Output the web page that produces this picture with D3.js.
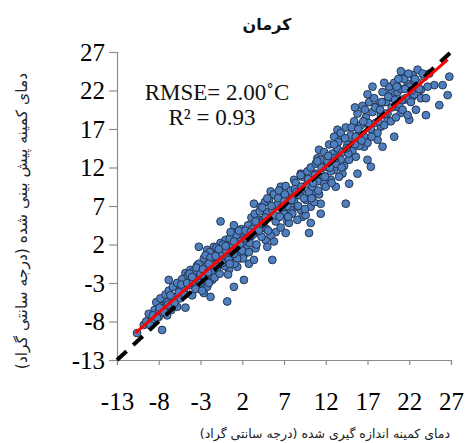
<!DOCTYPE html>
<html><head><meta charset="utf-8">
<script src="https://cdn.jsdelivr.net/npm/d3@7"></script>
<style>html,body{margin:0;padding:0;background:#fff;}svg{display:block;}</style>
</head><body>
<svg id="chart" width="466" height="443"></svg>
<script>
const title = "کرمان";
const xLabel = "دمای کمینه اندازه گیری شده (درجه سانتی گراد)";
const yLabel = "دمای کمینه پیش بینی شده (درجه سانتی گراد)";
const statsText = ["RMSE= 2.00˚C", "R² = 0.93"];
const tickValues = [-13, -8, -3, 2, 7, 12, 17, 22, 27];
const axisDomain = [-13, 27];
const fitLine = { x: [-10.8, 26.6], y: [-9.5, 26.0] };
const oneToOne = [-13, 27];

const observed = [
-10.6,-9.8,-7.6,-8.0,-7.0,-7.6,-6.8,-7.4,-6.4,-5.8,-5.4,-5.0,-4.8,-4.4,-4.2,-3.6,-3.4,-3.2,-3.0,-2.6,-2.2,-1.8,-1.6,-1.2,-1.0,-2.0,-2.2,-1.4,-1.0,-0.6,0.0,0.2,-0.2,0.4,1.0,0.2,0.8,1.2,1.4,1.8,2.2,2.4,2.6,2.8,-0.6,0.8,1.0,1.8,3.4,3.6,3.0,3.8,4.0,3.4,4.2,4.6,4.8,5.0,5.8,5.6,6.0,5.2,5.4,5.8,6.2,6.6,6.8,7.0,7.4,7.2,7.8,8.0,8.2,8.6,9.0,9.0,9.2,9.6,9.8,10.0,10.2,10.2,10.6,10.8,11.0,11.2,11.4,11.4,11.8,12.0,12.6,13.0,13.0,13.2,13.4,13.6,13.8,14.0,14.4,14.8,15.0,15.4,15.6,15.8,16.0,16.6,17.0,17.0,17.4,17.6,18.0,18.2,18.6,18.8,19.0,19.4,19.8,20.2,20.4,20.6,21.0,21.2,21.4,21.8,22.0,22.4,22.6,23.0,23.4,24.0,24.4,25.0,25.6,26.0,26.6,26.8,
-9.5,-9.2,-8.8,-8.5,-8.3,-8.0,-7.8,-7.5,-7.2,-7.0,-6.8,-6.5,-6.3,-6.0,-5.8,-5.5,-5.2,-5.0,-4.8,-4.5,
-4.2,-4.0,-3.8,-3.6,-3.4,-3.2,-3.0,-2.8,-2.6,-2.5,-2.3,-2.0,-1.9,-1.7,-1.5,-1.3,-1.1,-0.9,-0.7,-0.5,-0.3,-0.1,0.1,0.3,
0.5,0.7,0.9,1.1,1.3,1.5,1.7,1.9,2.1,2.3,2.5,2.7,2.9,3.1,3.3,3.5,3.7,3.9,4.1,4.3,4.5,4.7,4.9,5.0,
5.2,5.4,5.6,5.8,6.0,6.2,6.4,6.6,6.8,7.0,7.2,7.4,7.6,7.8,8.0,8.2,8.4,8.6,8.8,9.0,9.2,9.4,9.6,9.8,10.0,
10.2,10.4,10.6,10.8,11.0,11.2,11.4,11.6,11.8,12.0,12.2,12.4,12.6,12.8,13.0,13.2,13.4,13.6,13.8,14.0,14.2,14.4,14.6,14.8,15.0,
15.2,15.4,15.6,15.8,16.0,16.2,16.4,16.6,16.8,17.0,17.2,17.4,17.6,17.8,18.0,18.2,18.4,18.6,18.8,19.0,19.2,19.4,19.6,19.8,20.0,
20.2,20.4,20.6,20.8,21.0,21.2,21.4,21.6,21.8,22.0,22.2,22.4,22.6,22.8,23.0,23.4,23.8,24.2,
-9.0,-8.7,-8.2,-7.9,-7.3,-6.9,-6.6,-6.1,-5.6,-5.3,-4.9,-4.6,-4.3,-3.9,-3.5,-3.1,-2.7,-2.4,-2.1,-1.8,-1.6,-1.2,-0.8,-0.4,0.0,0.4,0.6,1.0,1.4,1.6,2.0,2.4,2.8,3.2,3.6,4.0,4.4,4.8,5.1,5.5,5.9,6.3,6.7,7.1,7.5,7.9,8.3,8.7,9.1,9.5,9.9,10.3,10.7,11.1,11.5,11.9,12.3,12.7,13.1,13.5,13.9,14.3,14.7,15.1,15.5,15.9,16.3,16.7,17.1,17.5,17.9,18.3,18.7,19.1,19.5,19.9,20.3,20.7,21.1,21.5,21.9,22.3,22.7,23.2,23.6,24.0,
13.0,11.0,9.0,7.0,5.0,3.0,1.0,-1.0,-3.0,16.5,18.5,20.5,12.5,10.5,8.5,6.5,4.5,2.5,0.5,-2.0,-4.0,14.5,15.5,17.0,19.0,21.0
];
const predicted = [
-9.5,-8.45,-9.1,-7.4,-7.2,-6.1,-2.6,-5.2,-4.8,-6.1,-3.7,-4.3,-1.7,-3.3,-1.3,-2.0,-0.7,1.7,-3.7,-4.3,-3.5,-4.8,-2.6,-1.7,-0.9,0.4,1.3,1.7,0.9,2.2,2.6,0.4,-0.2,-1.3,-3.5,-5.4,0.0,1.3,-0.9,0.2,-2.6,0.9,2.2,-0.5,5.0,3.6,4.5,2.6,0.0,1.5,3.0,3.7,5.2,7.3,6.9,4.3,2.6,1.7,2.4,0.0,3.6,5.6,8.9,6.9,8.2,9.5,6.0,7.3,5.0,3.5,6.5,8.2,10.4,6.9,8.9,11.2,5.6,7.8,9.9,3.5,4.8,6.9,8.6,11.2,13.2,14.3,7.3,6.0,9.9,12.1,10.4,13.8,11.7,9.5,16.9,15.6,13.0,11.2,7.3,9.9,15.1,17.7,13.4,11.2,16.4,14.7,17.7,13.0,12.1,22.5,19.9,15.6,17.3,14.7,20.5,18.1,22.1,16.0,19.9,22.5,19.1,23.8,20.8,22.9,18.2,21.2,23.2,24.7,22.1,18.8,24.2,22.7,20.1,22.7,21.4,23.8,
-8.0,-7.0,-7.8,-6.5,-5.5,-6.8,-5.0,-6.0,-4.5,-5.5,-4.0,-6.5,-3.5,-4.8,-3.0,-5.0,-2.5,-3.8,-6.2,-2.0,
-3.0,-4.6,-1.5,-3.8,-2.6,-0.5,-1.8,-4.0,0.2,-2.2,-0.8,-3.0,1.0,-1.5,0.0,-2.3,1.6,-0.3,-1.8,0.8,2.0,-0.8,1.2,-1.9,
2.8,0.5,1.9,-0.5,3.2,1.0,2.0,4.0,0.2,3.0,1.5,4.5,2.2,5.5,3.3,6.0,2.0,4.2,6.3,3.0,5.2,7.5,4.0,6.2,
7.8,3.2,6.5,8.5,5.0,7.2,9.0,4.2,8.0,6.0,9.6,7.0,4.8,9.0,6.0,7.6,10.0,5.2,8.4,6.5,10.8,8.0,5.8,11.5,8.8,
12.0,9.5,7.5,12.5,10.2,8.5,13.0,11.0,14.0,9.5,12.8,15.0,11.5,13.8,16.0,12.5,14.5,10.8,16.5,14.0,12.2,17.2,15.0,13.0,16.2,
14.2,18.0,16.0,19.0,14.8,17.5,20.0,16.0,18.5,15.2,20.5,17.0,19.2,21.0,17.8,16.5,20.0,18.8,21.8,17.5,20.5,19.0,22.5,18.0,21.0,
23.0,18.5,21.8,20.2,22.2,19.5,23.5,21.0,18.8,22.5,20.5,24.0,21.5,19.5,23.0,21.0,23.8,22.5,
-8.5,-7.2,-7.5,-6.2,-6.8,-5.8,-4.6,-5.6,-4.2,-3.2,-4.5,-3.0,-1.8,-2.8,-1.0,-2.9,-1.2,0.6,-1.6,0.3,-0.6,0.5,1.4,-0.4,1.8,0.0,3.6,2.4,0.2,3.8,1.2,3.8,1.0,4.0,5.0,3.8,6.8,5.5,3.8,7.0,5.8,8.0,6.8,8.5,5.6,7.8,9.2,7.0,9.5,6.6,10.5,8.0,11.0,9.0,12.0,10.8,13.5,10.0,13.2,15.3,12.0,15.8,13.8,17.2,15.0,17.0,15.5,19.5,17.8,16.0,19.8,18.0,20.5,19.0,21.2,19.8,20.8,23.5,20.8,22.2,24.2,22.0,23.5,22.2,24.2,21.0,
15.0,12.8,11.0,7.6,8.0,3.6,0.8,-1.0,-3.0,18.0,19.5,22.5,12.0,10.0,8.8,5.6,4.8,2.8,-0.5,-0.5,-2.2,14.5,19.8,21.5,23.0,24.5
];

const svg = d3.select("#chart");
svg.append("rect").attr("width", 466).attr("height", 443).attr("fill", "#fff");

const x = d3.scaleLinear().domain(axisDomain).range([117, 451]);
const y = d3.scaleLinear().domain(axisDomain).range([360, 52]);

const serif = "'Liberation Serif','Times New Roman',serif";
const arabic = "'DejaVu Sans','Noto Sans',sans-serif";
const axisColor = "#8c8c8c";
const fmt = d => String(d);

// axes
const gx = svg.append("g").attr("transform", "translate(0,360)")
  .call(d3.axisBottom(x).tickValues(tickValues).tickSize(5).tickPadding(27).tickFormat(fmt));
const gy = svg.append("g").attr("transform", "translate(117,0)")
  .call(d3.axisLeft(y).tickValues(tickValues).tickSize(8).tickPadding(4).tickFormat(fmt));
[gx, gy].forEach(g => {
  g.select(".domain").attr("stroke", axisColor).attr("stroke-width", 1.2);
  g.selectAll(".tick line").attr("stroke", axisColor).attr("stroke-width", 1.2);
  g.selectAll(".tick text").attr("fill", "#000").style("font-family", serif).style("font-size", "25px");
});

// points
const pts = observed.map((v, i) => [v, predicted[i]]);
svg.append("g").selectAll("circle").data(pts).join("circle")
  .attr("cx", d => x(d[0])).attr("cy", d => y(d[1])).attr("r", 3.9)
  .attr("fill", "#4f7fbf").attr("stroke", "#1c2c44").attr("stroke-width", 0.9);

// 1:1 line
svg.append("line")
  .attr("x1", x(oneToOne[0])).attr("y1", y(oneToOne[0]))
  .attr("x2", x(oneToOne[1])).attr("y2", y(oneToOne[1]))
  .attr("stroke", "#000").attr("stroke-width", 4).attr("stroke-dasharray", "13,9");

// fit line
svg.append("line")
  .attr("x1", x(fitLine.x[0])).attr("y1", y(fitLine.y[0]))
  .attr("x2", x(fitLine.x[1])).attr("y2", y(fitLine.y[1]))
  .attr("stroke", "#ff0000").attr("stroke-width", 3);

// stats text
svg.append("text").attr("x", 217).attr("y", 100).attr("text-anchor", "middle")
  .style("font-family", serif).style("font-size", "23px").attr("fill", "#111").text(statsText[0]);
svg.append("text").attr("x", 212).attr("y", 125).attr("text-anchor", "middle")
  .style("font-family", serif).style("font-size", "23px").attr("fill", "#111").text(statsText[1]);

// title
svg.append("text").attr("x", 267).attr("y", 30).attr("text-anchor", "middle")
  .style("font-family", arabic).style("font-size", "16px").style("font-weight", "bold")
  .attr("fill", "#111").text(title);

// y label
svg.append("text").attr("transform", "translate(27,221) rotate(-90)").attr("text-anchor", "middle")
  .attr("direction", "rtl")
  .style("font-family", arabic).style("font-size", "15.5px").attr("fill", "#222").text(yLabel);

// x label
svg.append("text").attr("x", 325).attr("y", 438).attr("text-anchor", "middle")
  .attr("direction", "rtl")
  .style("font-family", arabic).style("font-size", "12.5px").attr("fill", "#222").text(xLabel);
</script>
</body></html>
